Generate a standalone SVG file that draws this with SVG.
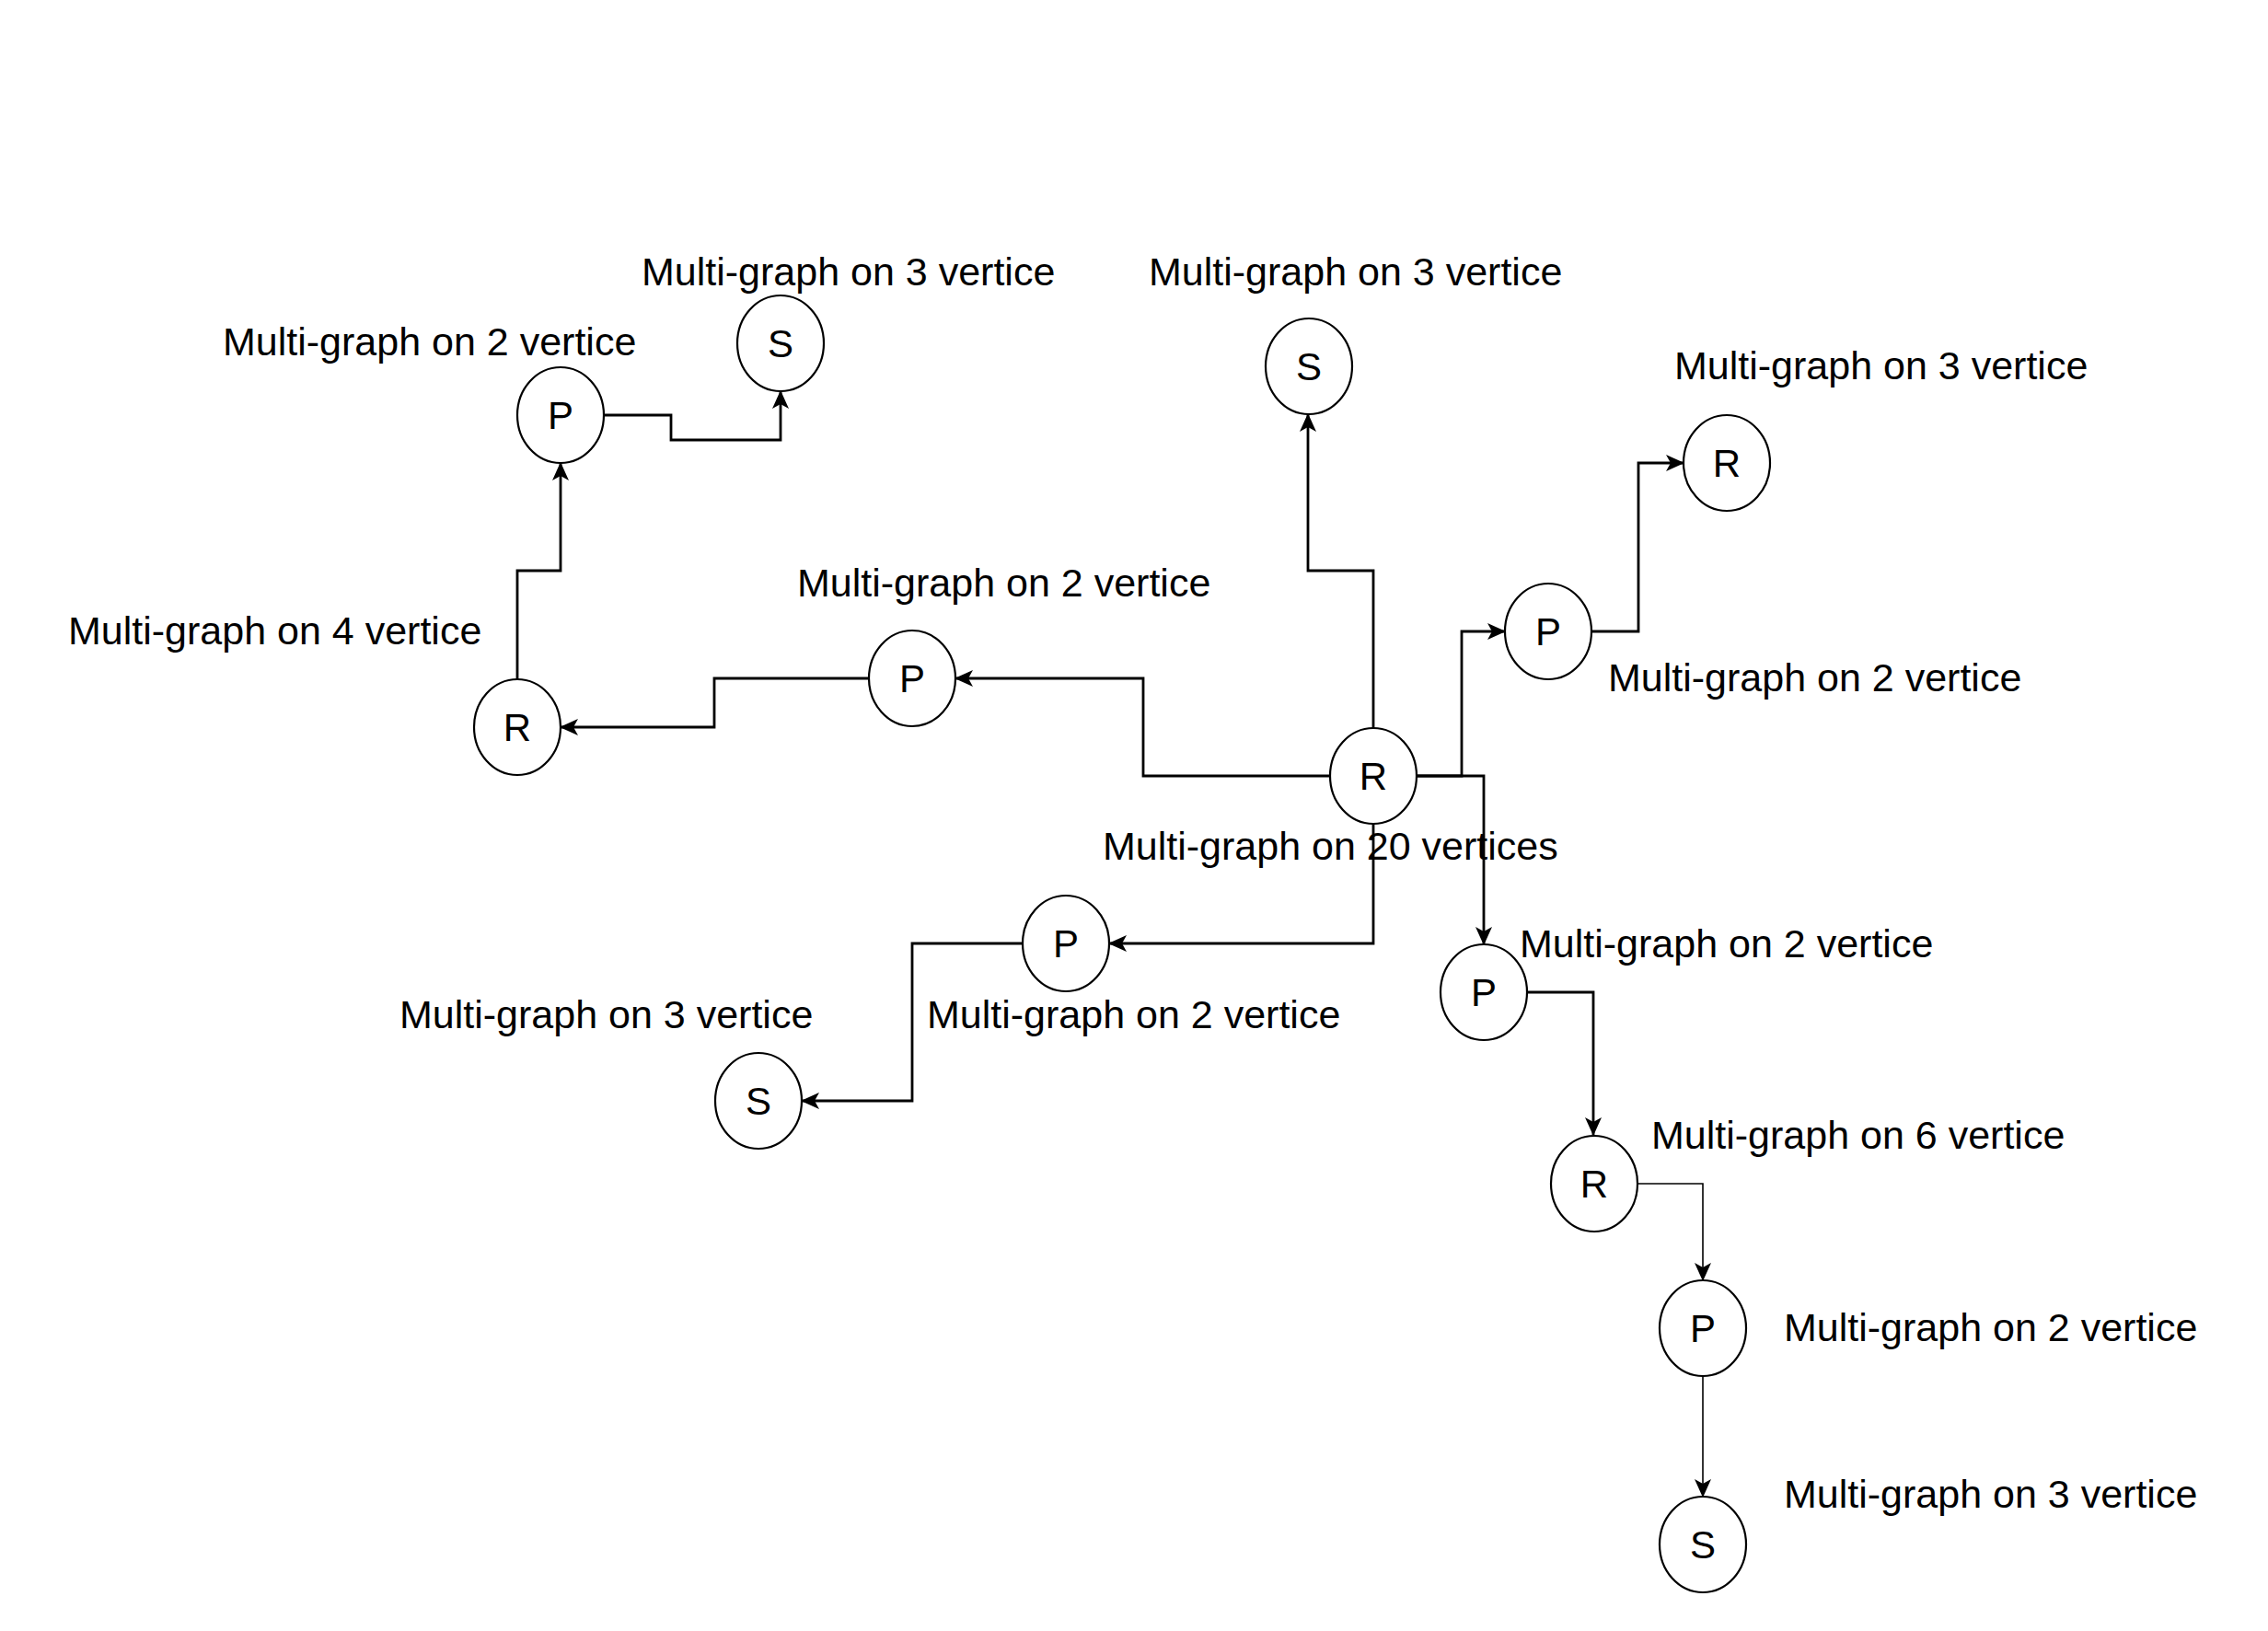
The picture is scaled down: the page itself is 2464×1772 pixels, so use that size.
<svg xmlns="http://www.w3.org/2000/svg" width="2464" height="1772" viewBox="0 0 2464 1772">
<defs>
<style>
.node ellipse{fill:#fff;stroke:#000;stroke-width:2.2}
.node text{font-family:"Liberation Sans",Arial,sans-serif;font-size:42px;fill:#000;text-anchor:middle}
.lbl{font-family:"Liberation Sans",Arial,sans-serif;font-size:43px;fill:#000}
.edge{fill:none;stroke:#000;stroke-width:2.8;marker-end:url(#arr)}
.thin{stroke-width:1.6}
</style>
<marker id="arr" viewBox="0 0 20 20" refX="19" refY="10" markerWidth="20" markerHeight="20" markerUnits="userSpaceOnUse" orient="auto">
<path d="M0,1 L20,10 L0,19 L5,10 z" fill="#000"/>
</marker>
</defs>
<rect width="2464" height="1772" fill="#fff"/>
<g id="connectors">
<path class="edge" d="M562,738 V620 H609 V503"/>
<path class="edge" d="M656,451 H729 V478 H848 V425"/>
<path class="edge" d="M1445,843 H1242 V737 H1038"/>
<path class="edge" d="M944,737 H776 V790 H609"/>
<path class="edge" d="M1492,791 V620 H1421 V450"/>
<path class="edge" d="M1539,843 H1588 V686 H1635"/>
<path class="edge" d="M1539,843 H1612 V1026"/>
<path class="edge" d="M1729,686 H1780 V503 H1829"/>
<path class="edge" d="M1492,895 V1025 H1205"/>
<path class="edge" d="M1111,1025 H991 V1196 H871"/>
<path class="edge" d="M1659,1078 H1731 V1233"/>
<path class="edge thin" d="M1779,1286 H1850 V1391"/>
<path class="edge thin" d="M1850,1495 V1626"/>
</g>
<g id="n_r0" class="node"><ellipse cx="1492" cy="843" rx="47" ry="52"/><text x="1492" y="858">R</text></g>
<g id="n_p1" class="node"><ellipse cx="609" cy="451" rx="47" ry="52"/><text x="609" y="466">P</text></g>
<g id="n_s1" class="node"><ellipse cx="848" cy="373" rx="47" ry="52"/><text x="848" y="388">S</text></g>
<g id="n_r2" class="node"><ellipse cx="562" cy="790" rx="47" ry="52"/><text x="562" y="805">R</text></g>
<g id="n_p2" class="node"><ellipse cx="991" cy="737" rx="47" ry="52"/><text x="991" y="752">P</text></g>
<g id="n_s2" class="node"><ellipse cx="1422" cy="398" rx="47" ry="52"/><text x="1422" y="413">S</text></g>
<g id="n_p3" class="node"><ellipse cx="1682" cy="686" rx="47" ry="52"/><text x="1682" y="701">P</text></g>
<g id="n_r3" class="node"><ellipse cx="1876" cy="503" rx="47" ry="52"/><text x="1876" y="518">R</text></g>
<g id="n_p4" class="node"><ellipse cx="1158" cy="1025" rx="47" ry="52"/><text x="1158" y="1040">P</text></g>
<g id="n_s3" class="node"><ellipse cx="824" cy="1196" rx="47" ry="52"/><text x="824" y="1211">S</text></g>
<g id="n_p5" class="node"><ellipse cx="1612" cy="1078" rx="47" ry="52"/><text x="1612" y="1093">P</text></g>
<g id="n_r4" class="node"><ellipse cx="1732" cy="1286" rx="47" ry="52"/><text x="1732" y="1301">R</text></g>
<g id="n_p6" class="node"><ellipse cx="1850" cy="1443" rx="47" ry="52"/><text x="1850" y="1458">P</text></g>
<g id="n_s4" class="node"><ellipse cx="1850" cy="1678" rx="47" ry="52"/><text x="1850" y="1693">S</text></g>
<g id="labels">
<text class="lbl" x="242" y="386">Multi-graph on 2 vertice</text>
<text class="lbl" x="697" y="310">Multi-graph on 3 vertice</text>
<text class="lbl" x="74" y="700">Multi-graph on 4 vertice</text>
<text class="lbl" x="866" y="648">Multi-graph on 2 vertice</text>
<text class="lbl" x="1248" y="310">Multi-graph on 3 vertice</text>
<text class="lbl" x="1819" y="412">Multi-graph on 3 vertice</text>
<text class="lbl" x="1747" y="751">Multi-graph on 2 vertice</text>
<text class="lbl" x="1198" y="934">Multi-graph on 20 vertices</text>
<text class="lbl" x="1007" y="1117">Multi-graph on 2 vertice</text>
<text class="lbl" x="434" y="1117">Multi-graph on 3 vertice</text>
<text class="lbl" x="1651" y="1040">Multi-graph on 2 vertice</text>
<text class="lbl" x="1794" y="1248">Multi-graph on 6 vertice</text>
<text class="lbl" x="1938" y="1457">Multi-graph on 2 vertice</text>
<text class="lbl" x="1938" y="1638">Multi-graph on 3 vertice</text>
</g>
</svg>
